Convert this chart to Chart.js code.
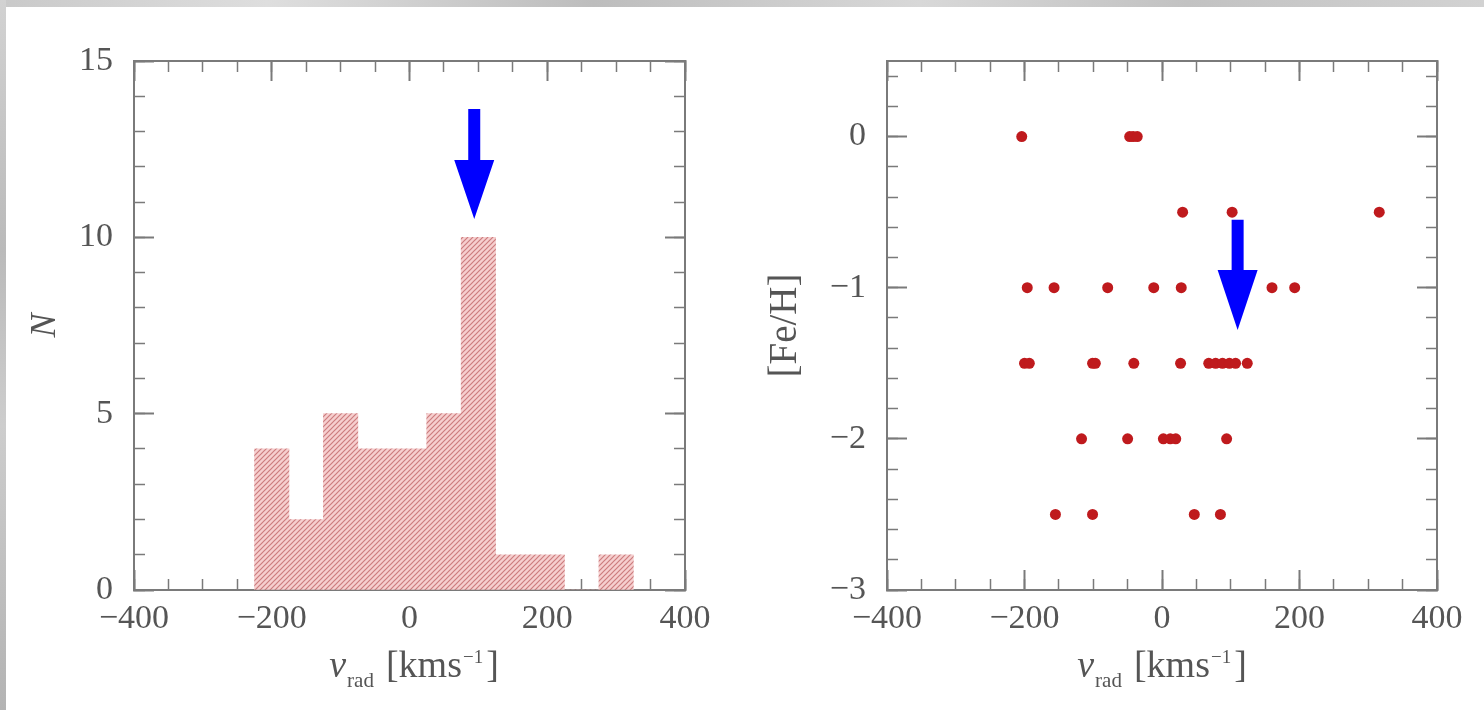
<!DOCTYPE html>
<html>
<head>
<meta charset="utf-8">
<script src="https://cdn.jsdelivr.net/npm/chart.js@4.4.1/dist/chart.umd.min.js"></script>
<style>
  html, body { margin: 0; padding: 0; background: #fff; }
  #page { position: relative; width: 1484px; height: 710px; overflow: hidden; background: #fff; }
  #topband { position: absolute; left: 0; top: 0; width: 1484px; height: 7px;
    background: linear-gradient(90deg, #c9c9c9, #dedede 18%, #bdbdbd 40%, #d8d8d8 62%, #c2c2c2 80%, #d2d2d2); }
  #leftband { position: absolute; left: 0; top: 0; width: 6px; height: 710px;
    background: linear-gradient(180deg, #d2d2d2, #bababa 35%, #cdcdcd 60%, #b3b3b3); }
  canvas { position: absolute; top: 0; }
  .xtitle { position: absolute; top: 645px; font-family: 'Liberation Serif', serif; font-size: 38px;
    line-height: 38px; color: #555; white-space: nowrap; transform: translateX(-50%); }
  .xtitle i { font-style: italic; margin-right: 1px; }
  .xtitle sub { font-size: 21px; vertical-align: -10px; line-height: 0; margin-right: 12px; }
  .xtitle sup { font-size: 19px; vertical-align: 14px; line-height: 0; margin-left: 1px; margin-right: 3px; }
</style>
</head>
<body>
<div id="page">
  <canvas id="hist" width="742" height="710" style="left:0"></canvas>
  <canvas id="feh" width="742" height="710" style="left:742px"></canvas>
  <div id="topband"></div>
  <div id="leftband"></div>
  <div class="xtitle" style="left:414px"><i>v</i><sub>rad</sub>[kms<sup>−1</sup>]</div>
  <div class="xtitle" style="left:1162px"><i>v</i><sub>rad</sub>[kms<sup>−1</sup>]</div>
</div>
<script>
// Radial-velocity histogram: bin centres (km/s, 50 km/s wide) and star counts
const binCenters = [-200, -150, -100, -50, 0, 50, 100, 150, 200, 250, 300];
const binCounts  = [4, 2, 5, 4, 4, 5, 10, 1, 1, 0, 1];

// Individual stars: radial velocity (km/s) and metallicity [Fe/H]
const starV   = [-204, -47, -42, -36,
                 30, 102, 316,
                 -196, -157, -79, -12, 28, 160, 193,
                 -200, -193, -101, -97, -41, 27, 68, 78, 88, 98, 107, 124,
                 -117, -50, 2, 12, 20, 94,
                 -155, -101, 47, 85];
const starFeH = [0, 0, 0, 0,
                 -0.5, -0.5, -0.5,
                 -1, -1, -1, -1, -1, -1, -1,
                 -1.5, -1.5, -1.5, -1.5, -1.5, -1.5, -1.5, -1.5, -1.5, -1.5, -1.5, -1.5,
                 -2, -2, -2, -2, -2, -2,
                 -2.5, -2.5, -2.5, -2.5];

// Marker arrows (one per panel): velocity, tail value and tip value on each panel's y axis
const arrowV    = [94, 110];
const arrowTail = [13.64, -0.55];
const arrowTip  = [10.52, -1.28];

const AXIS_GRAY = '#7a7a7a';
const LABEL_GRAY = '#555';
const SERIF = "'Liberation Serif', 'Times New Roman', serif";
const tickFont = { family: SERIF, size: 34 };
const minusSign = v => String(v).replace('-', '\u2212');

// Solid downward arrow drawn in data coordinates
const arrowPlugin = {
  id: 'markerArrow',
  afterDatasetsDraw(chart, args, o) {
    const { ctx, scales } = chart;
    const px = scales.x.getPixelForValue(o.v);
    const tail = scales.y.getPixelForValue(o.tail);
    const tip = scales.y.getPixelForValue(o.tip);
    const base = tip - o.headLength;
    const sw = o.shaftWidth / 2, hw = o.headWidth / 2;
    ctx.save();
    ctx.fillStyle = o.color;
    ctx.beginPath();
    ctx.moveTo(px - sw, tail);
    ctx.lineTo(px + sw, tail);
    ctx.lineTo(px + sw, base);
    ctx.lineTo(px + hw, base);
    ctx.lineTo(px, tip);
    ctx.lineTo(px - hw, base);
    ctx.lineTo(px - sw, base);
    ctx.closePath();
    ctx.fill();
    ctx.restore();
  }
};

// Framed axes with inward major/minor ticks on all four sides
function makeScales(c) {
  const ticksOnly = (len, w) => ({ display: true, drawOnChartArea: false, drawTicks: true,
    tickLength: -len, tickWidth: w, tickColor: AXIS_GRAY, offset: false });
  const border = on => ({ display: on, color: AXIS_GRAY, width: 2 });
  const quiet = step => ({ display: false, stepSize: step, includeBounds: false });
  const xBase = { type: 'linear', min: c.xMin, max: c.xMax, offset: false };
  const yBase = { type: 'linear', min: c.yMin, max: c.yMax, offset: false };
  const fix = (w, h) => s => {
    if (w !== null) s.width = w;
    if (h !== null) s.height = h;
    s.paddingLeft = s.paddingRight = s.paddingTop = s.paddingBottom = 0;
  };
  return {
    x: { ...xBase, position: 'bottom', weight: 1, grid: ticksOnly(20, 2), border: border(true),
      ticks: { stepSize: c.xMajor, includeBounds: false, autoSkip: false, maxRotation: 0,
        padding: 29, color: LABEL_GRAY, font: tickFont, callback: minusSign },
      afterFit: fix(null, 120) },
    xMinor: { ...xBase, position: 'bottom', weight: 0, grid: ticksOnly(11, 1.5), border: border(false),
      ticks: quiet(c.xMinor), afterFit: fix(null, 0) },
    xTop: { ...xBase, position: 'top', weight: 0, grid: ticksOnly(20, 2), border: border(true),
      ticks: quiet(c.xMajor), afterFit: fix(null, 0) },
    xTopMinor: { ...xBase, position: 'top', weight: 0, grid: ticksOnly(11, 1.5), border: border(false),
      ticks: quiet(c.xMinor), afterFit: fix(null, 0) },
    y: { ...yBase, position: 'left', weight: 1, grid: ticksOnly(20, 2), border: border(true),
      ticks: { stepSize: c.yMajor, includeBounds: false, autoSkip: false, padding: 41,
        color: LABEL_GRAY, font: tickFont, callback: minusSign },
      title: { display: true, text: c.yTitle, color: LABEL_GRAY,
        font: { family: SERIF, size: c.yTitleSize, style: c.yTitleStyle },
        padding: { top: c.yTitlePad, bottom: 0 } },
      afterFit: fix(c.leftWidth, null) },
    yMinor: { ...yBase, position: 'left', weight: 0, grid: ticksOnly(11, 1.5), border: border(false),
      ticks: quiet(c.yMinor), afterFit: fix(0, null) },
    yRight: { ...yBase, position: 'right', weight: 0, grid: ticksOnly(20, 2), border: border(true),
      ticks: quiet(c.yMajor), afterFit: fix(0, null) },
    yRightMinor: { ...yBase, position: 'right', weight: 0, grid: ticksOnly(11, 1.5), border: border(false),
      ticks: quiet(c.yMinor), afterFit: fix(0, null) }
  };
}

// Diagonal hatch fill for the histogram bars
function hatch(ctx) {
  const n = 5;
  const tile = document.createElement('canvas');
  tile.width = tile.height = n;
  const g = tile.getContext('2d');
  g.fillStyle = '#f6cfcf';
  g.fillRect(0, 0, n, n);
  g.strokeStyle = '#cc7c7e';
  g.lineWidth = 1.2;
  g.beginPath();
  g.moveTo(-1, 1); g.lineTo(1, -1);
  g.moveTo(0, n); g.lineTo(n, 0);
  g.moveTo(n - 1, n + 1); g.lineTo(n + 1, n - 1);
  g.stroke();
  return ctx.createPattern(tile, 'repeat');
}

const common = {
  responsive: false,
  animation: false,
  events: [],
  plugins: { legend: { display: false }, tooltip: { enabled: false } }
};

const histCtx = document.getElementById('hist').getContext('2d');
new Chart(histCtx, {
  type: 'bar',
  data: {
    datasets: [{
      data: binCenters.map((v, i) => ({ x: v, y: binCounts[i] })),
      backgroundColor: hatch(histCtx),
      borderWidth: 0,
      barPercentage: 1,
      categoryPercentage: 1,
      xAxisID: 'x',
      yAxisID: 'y'
    }]
  },
  options: {
    ...common,
    layout: { padding: { top: 61, right: 57, bottom: 0, left: 0 } },
    scales: makeScales({ xMin: -400, xMax: 400, xMajor: 200, xMinor: 50,
      yMin: 0, yMax: 15, yMajor: 5, yMinor: 1, leftWidth: 134,
      yTitle: 'N', yTitleStyle: 'italic', yTitleSize: 36, yTitlePad: 24 }),
    plugins: { ...common.plugins,
      markerArrow: { v: arrowV[0], tail: arrowTail[0], tip: arrowTip[0],
        shaftWidth: 12, headWidth: 40, headLength: 59, color: '#0000ff' } }
  },
  plugins: [arrowPlugin]
});

new Chart(document.getElementById('feh'), {
  type: 'scatter',
  data: {
    datasets: [{
      data: starV.map((v, i) => ({ x: v, y: starFeH[i] })),
      backgroundColor: '#bf1a1d',
      borderWidth: 0,
      pointRadius: 5.5,
      xAxisID: 'x',
      yAxisID: 'y'
    }]
  },
  options: {
    ...common,
    layout: { padding: { top: 61, right: 47, bottom: 0, left: 0 } },
    scales: makeScales({ xMin: -400, xMax: 400, xMajor: 200, xMinor: 50,
      yMin: -3, yMax: 0.5, yMajor: 1, yMinor: 0.2, leftWidth: 145,
      yTitle: '[Fe/H]', yTitleStyle: 'normal', yTitleSize: 39, yTitlePad: 20 }),
    plugins: { ...common.plugins,
      markerArrow: { v: arrowV[1], tail: arrowTail[1], tip: arrowTip[1],
        shaftWidth: 12, headWidth: 40, headLength: 60, color: '#0000ff' } }
  },
  plugins: [arrowPlugin]
});
</script>
</body>
</html>
